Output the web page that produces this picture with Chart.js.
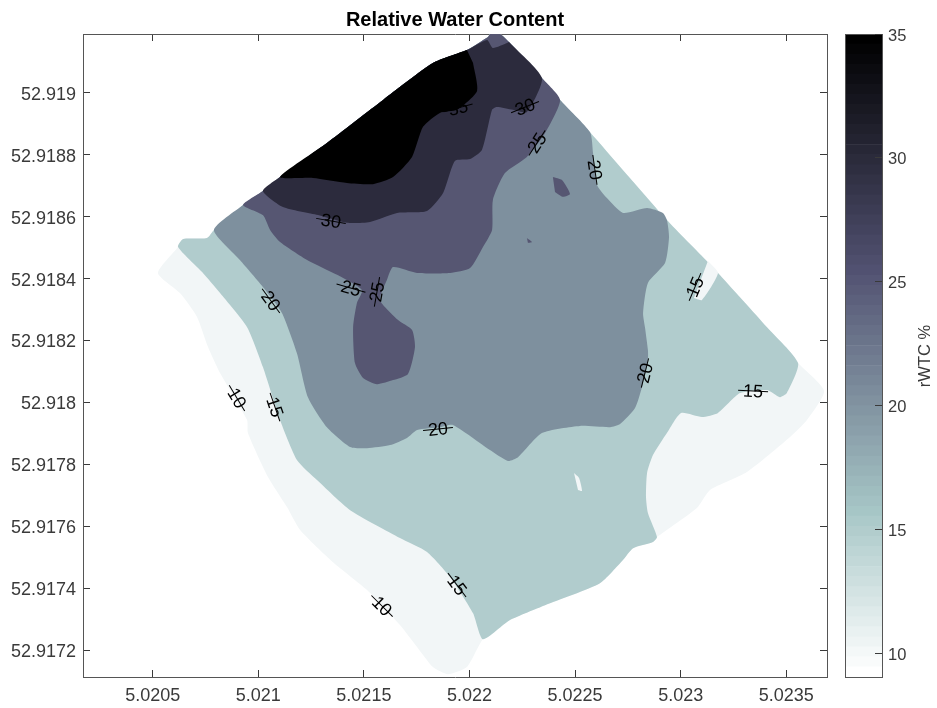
<!DOCTYPE html>
<html>
<head>
<meta charset="utf-8">
<script src="https://cdn.jsdelivr.net/npm/chart.js@4"></script>
<style>
html,body{margin:0;padding:0;background:#fff;width:937px;height:708px;overflow:hidden}
#map{position:absolute;left:0;top:0}
#bar{position:absolute;left:840px;top:0}
</style>
</head>
<body>
<canvas id="map" width="937" height="708"></canvas>
<canvas id="bar" width="97" height="708"></canvas>
<script>
const xTicks=[5.0205,5.021,5.0215,5.022,5.0225,5.023,5.0235];
const xTickLabels=['5.0205','5.021','5.0215','5.022','5.0225','5.023','5.0235'];
const yTicks=[52.9172,52.9174,52.9176,52.9178,52.918,52.9182,52.9184,52.9186,52.9188,52.919];
const yTickLabels=['52.9172','52.9174','52.9176','52.9178','52.918','52.9182','52.9184','52.9186','52.9188','52.919'];
const barTicks=[10,15,20,25,30,35];

// survey outline: north-east edge, apex to east corner
const neLon=[5.022097,5.022145,5.022187,5.022343,5.022429,5.022571,5.022935,5.023129,5.023177,5.023409,5.023556,5.023679];
const neLat=[52.919190,52.919190,52.919164,52.919048,52.918977,52.918873,52.918589,52.918453,52.918418,52.918243,52.918127,52.918037];
// survey outline: north-west edge, apex to west corner
const nwLon=[5.022088,5.021988,5.021827,5.021591,5.021325,5.021103,5.021022,5.020928,5.020790,5.020757,5.020644,5.020620,5.020525];
const nwLat=[52.919180,52.919138,52.919096,52.918977,52.918838,52.918728,52.918683,52.918638,52.918557,52.918531,52.918528,52.918502,52.918418];
// survey outline: southern edges
const southALon=[5.023598,5.023518,5.023314,5.023139,5.023077,5.022888];
const southALat=[52.917943,52.917888,52.917775,52.917717,52.917659,52.917565];
const southBLon=[5.022869,5.022775,5.022727,5.022618,5.022358,5.022192,5.022064];
const southBLat=[52.917549,52.917529,52.917491,52.917416,52.917345,52.917297,52.917235];
const southCLon=[5.021988,5.021898,5.021827,5.021752,5.021671,5.021515,5.021354,5.021198,5.021136,5.021046,5.020951,5.020947,5.020819,5.020762,5.020710,5.020629];
const southCLat=[52.917145,52.917122,52.917145,52.917210,52.917281,52.917394,52.917484,52.917588,52.917662,52.917759,52.917901,52.917943,52.918095,52.918179,52.918276,52.918353];

// contour 15
const c15eLon=[5.023503,5.023470,5.023409,5.023281,5.023177,5.023101,5.023002,5.022935,5.022869,5.022841,5.022836,5.022845,5.022888];
const c15eLat=[52.918030,52.918017,52.918040,52.918030,52.917966,52.917953,52.917966,52.917901,52.917830,52.917772,52.917694,52.917643,52.917565];
const c15wLon=[5.022017,5.021908,5.021799,5.021671,5.021435,5.021278,5.021183,5.021103,5.021022,5.020947,5.020819,5.020734];
const c15wLat=[52.917319,52.917436,52.917517,52.917562,52.917652,52.917749,52.917814,52.917943,52.918114,52.918243,52.918353,52.918421];
const stripLon=[5.023129,5.023177,5.023101,5.023063];
const stripLat=[52.918457,52.918418,52.918331,52.918337];
const sliverLon=[5.022495,5.022519,5.022533,5.022514];
const sliverLat=[52.917772,52.917756,52.917714,52.917717];

// contour 20
const c20Lon=[5.022585,5.022604,5.022651,5.022727,5.022841,5.022916,5.022935,5.022945,5.022926,5.022845,5.022822,5.022831,5.022845,5.022845,5.022817,5.022784,5.022713,5.022666,5.022523,5.022343,5.022230,5.022182,5.022097,5.021922,5.021860,5.021752,5.021704,5.021624,5.021515,5.021435,5.021325,5.021235,5.021183,5.021112,5.021027,5.020913];
const c20Lat=[52.918806,52.918702,52.918660,52.918612,52.918628,52.918612,52.918589,52.918534,52.918450,52.918386,52.918289,52.918243,52.918169,52.918137,52.918050,52.917982,52.917930,52.917920,52.917924,52.917901,52.917823,52.917811,52.917846,52.917927,52.917920,52.917911,52.917885,52.917862,52.917852,52.917856,52.917920,52.918017,52.918159,52.918289,52.918369,52.918460];

// contour 25
const c25Lon=[5.022358,5.022272,5.022168,5.022111,5.022107,5.022064,5.022003,5.021908,5.021752,5.021638,5.021609,5.021576,5.021662,5.021728,5.021742,5.021709,5.021638,5.021562,5.021496,5.021458,5.021449,5.021467,5.021491,5.021373,5.021231,5.021103,5.021056,5.021022];
const c25Lat=[52.918870,52.918793,52.918741,52.918654,52.918557,52.918502,52.918434,52.918418,52.918418,52.918437,52.918395,52.918331,52.918266,52.918234,52.918179,52.918092,52.918072,52.918059,52.918079,52.918127,52.918243,52.918321,52.918363,52.918412,52.918460,52.918518,52.918557,52.918605];
const isleALon=[5.022395,5.022438,5.022476,5.022443,5.022405];
const isleALat=[52.918728,52.918718,52.918673,52.918664,52.918680];
const isleBLon=[5.022272,5.022296,5.022277];
const isleBLat=[52.918531,52.918518,52.918515];

// contour 30
const c30Lon=[5.022272,5.022206,5.022130,5.022107,5.022059,5.022003,5.021931,5.021875,5.021799,5.021657,5.021529,5.021420,5.021283,5.021117];
const c30Lat=[52.918938,52.918945,52.918954,52.918945,52.918815,52.918786,52.918780,52.918676,52.918618,52.918612,52.918583,52.918580,52.918605,52.918631];
const patchLon=[5.022083,5.022111,5.022178];
const patchLat=[52.919171,52.919145,52.919161];

// contour 35
const c35Lon=[5.022017,5.022036,5.021941,5.021860,5.021780,5.021728,5.021638,5.021543,5.021420,5.021259];
const c35Lat=[52.919096,52.919006,52.918945,52.918935,52.918890,52.918793,52.918728,52.918705,52.918709,52.918725];

// contour labels
const labelText=['35','30','25','20','15','15','20','20','25','25','20','10','15','30','10','15'];
const labelLon=[5.021946,5.022263,5.022320,5.022594,5.023068,5.023343,5.022831,5.021851,5.021439,5.021562,5.021060,5.020899,5.021079,5.021344,5.021586,5.021941];
const labelLat=[52.918951,52.918954,52.918838,52.918751,52.918373,52.918037,52.918095,52.917914,52.918369,52.918357,52.918328,52.918014,52.917985,52.918586,52.917342,52.917410];
const labelAngle=[-15,-22,-57,82,-67,3,-76,-6,16,-80,54,59,71,10,45,53];

// colour bar level edges
const barEdges=[9.05,9.46,9.86,10.27,10.67,11.08,11.48,11.89,12.29,12.70,13.11,13.51,13.92,14.32,14.73,15.13,15.54,15.94,16.35,16.75,17.16,17.57,17.97,18.38,18.78,19.19,19.59,20.00,20.40,20.81,21.22,21.62,22.03,22.43,22.84,23.24,23.65,24.05,24.46,24.86,25.27,25.68,26.08,26.49,26.89,27.30,27.70,28.11,28.51,28.92,29.32,29.73,30.14,30.54,30.95,31.35,31.76,32.16,32.57,32.97,33.38,33.78,34.19,34.59,35];

const pts=(lon,lat,from=0,to=lon.length-1)=>{
  const out=[];
  for(let i=from;i<=to;i++)out.push({x:lon[i],y:lat[i]});
  return out;
};
const back=(lon,lat,from,to)=>pts(lon,lat,from,to).reverse();

const C10='#f2f6f7',C15='#b1cccd',C20='#7e909e',C25='#565672',C30='#2c2b3d',C35='#000000';
const layers=[
  {c:C10,p:[...pts(neLon,neLat),...pts(southALon,southALat),...pts(southBLon,southBLat),...pts(southCLon,southCLat),...back(nwLon,nwLat,0,12)]},
  {c:C15,p:[...pts(neLon,neLat,0,10),...pts(c15eLon,c15eLat),...pts(southBLon,southBLat),...pts(c15wLon,c15wLat),...back(nwLon,nwLat,0,11)]},
  {c:C10,p:pts(stripLon,stripLat)},
  {c:C10,p:pts(sliverLon,sliverLat)},
  {c:C20,p:[...pts(neLon,neLat,0,5),...pts(c20Lon,c20Lat),...back(nwLon,nwLat,0,8)]},
  {c:C25,p:[...pts(neLon,neLat,0,4),...pts(c25Lon,c25Lat),...back(nwLon,nwLat,0,7)]},
  {c:C25,p:pts(isleALon,isleALat)},
  {c:C25,p:pts(isleBLon,isleBLat)},
  {c:C30,p:[...pts(neLon,neLat,2,3),...pts(c30Lon,c30Lat),...back(nwLon,nwLat,1,6),...pts(patchLon,patchLat)]},
  {c:C35,p:[...pts(c35Lon,c35Lat),...back(nwLon,nwLat,1,5)]}
];

const FONT='"Liberation Sans", Arial, sans-serif';
const TICK='#3a3a3a', EDGE='#555555';

const fixed=(prop,v)=>s=>{s[prop]=v;};
const setTicks=list=>s=>{s.ticks=list.map(v=>({value:v}));};
const XMIN=5.020170,XMAX=5.023693,YMIN=52.917113,YMAX=52.919190;

const hAxis=(pos,h,extra)=>Object.assign({
  type:'linear',position:pos,min:XMIN,max:XMAX,
  afterBuildTicks:setTicks(xTicks),afterFit:fixed('height',h),
  border:{display:true,color:EDGE,width:1},
  grid:{drawOnChartArea:false,drawTicks:true,tickLength:-7,color:TICK,tickColor:TICK}
},extra);
const vAxis=(pos,w,extra)=>Object.assign({
  type:'linear',position:pos,min:YMIN,max:YMAX,
  afterBuildTicks:setTicks(yTicks),afterFit:fixed('width',w),
  border:{display:true,color:EDGE,width:1},
  grid:{drawOnChartArea:false,drawTicks:true,tickLength:-7,color:TICK,tickColor:TICK}
},extra);

const contourLabels={
  id:'contourLabels',
  afterDatasetsDraw(chart){
    const {ctx,scales:{x,y}}=chart;
    labelText.forEach((t,i)=>{
      ctx.save();
      ctx.translate(x.getPixelForValue(labelLon[i]),y.getPixelForValue(labelLat[i]));
      ctx.rotate(labelAngle[i]*Math.PI/180);
      ctx.strokeStyle='#000';ctx.lineWidth=1;
      ctx.beginPath();ctx.moveTo(-15,0);ctx.lineTo(15,0);ctx.stroke();
      ctx.fillStyle='#000';ctx.font='18px '+FONT;
      ctx.textAlign='center';ctx.textBaseline='middle';
      ctx.fillText(t,0,1);
      ctx.restore();
    });
  }
};

new Chart(document.getElementById('map'),{
  type:'scatter',
  data:{datasets:layers.map((l,i)=>({
    data:l.p,showLine:true,fill:'shape',backgroundColor:l.c,borderColor:l.c,tension:0.2,
    borderWidth:0,pointRadius:0,pointHoverRadius:0,order:layers.length-i
  }))},
  options:{
    responsive:false,animation:false,events:[],
    layout:{padding:0},
    plugins:{legend:{display:false},tooltip:{enabled:false}},
    scales:{
      x:hAxis('bottom',31,{ticks:{autoSkip:false,maxRotation:0,minRotation:0,padding:15,color:TICK,font:{family:FONT,size:18},callback:(v,i)=>xTickLabels[i]}}),
      x2:hAxis('top',34,{ticks:{display:false},
        title:{display:true,text:'Relative Water Content',color:'#000',font:{family:FONT,size:20,weight:'bold'},padding:{top:8,bottom:0}}}),
      y:vAxis('left',83,{ticks:{autoSkip:false,padding:14,labelOffset:2,color:TICK,font:{family:FONT,size:18},callback:(v,i)=>yTickLabels[i]}}),
      y2:vAxis('right',110,{ticks:{display:false}})
    }
  },
  plugins:[contourLabels]
});

function bone(t){
  const r=t<0.746?0.875*t:0.875*t+(t-0.746)/0.254/8;
  const g=t<0.365?0.875*t:(t<0.746?0.875*t+(t-0.365)/0.381/8:0.875*t+0.125);
  const b=t<0.365?0.875*t+t/0.365/8:0.875*t+0.125;
  return 'rgb('+[r,g,b].map(v=>Math.round(v*255)).join(',')+')';
}
const barLabel={
  id:'barLabel',
  afterDraw(chart){
    const {ctx}=chart;
    ctx.save();
    ctx.translate(85,356);
    ctx.rotate(-Math.PI/2);
    ctx.fillStyle=TICK;ctx.font='16.5px '+FONT;ctx.textAlign='center';ctx.textBaseline='middle';
    ctx.fillText('rWTC %',0,0);
    ctx.restore();
  }
};
const barDatasets=[];
for(let i=0;i<barEdges.length-1;i++){
  barDatasets.push({data:[[barEdges[i],barEdges[i+1]]],backgroundColor:bone(1-i/(barEdges.length-2)),borderWidth:0,barPercentage:1,categoryPercentage:1});
}
const barGrid={drawOnChartArea:false,drawTicks:false};
new Chart(document.getElementById('bar'),{
  type:'bar',
  data:{labels:['rWTC'],datasets:barDatasets},
  options:{
    responsive:false,animation:false,events:[],
    layout:{padding:0},
    plugins:{legend:{display:false},tooltip:{enabled:false}},
    scales:{
      x:{stacked:true,position:'bottom',afterFit:fixed('height',31),ticks:{display:false},grid:barGrid,border:{display:true,color:EDGE,width:1,z:2}},
      xt:{type:'category',labels:['rWTC'],position:'top',afterFit:fixed('height',34),ticks:{display:false},grid:barGrid,border:{display:true,color:EDGE,width:1,z:2}},
      yl:{type:'linear',position:'left',min:9.05,max:35,afterFit:fixed('width',5),ticks:{display:false},grid:barGrid,border:{display:true,color:EDGE,width:1,z:2}},
      y:{type:'linear',position:'right',min:9.05,max:35,afterFit:fixed('width',55),afterBuildTicks:setTicks(barTicks),
        ticks:{padding:13,labelOffset:2,color:TICK,font:{family:FONT,size:16.5},autoSkip:false},
        grid:{drawOnChartArea:false,drawTicks:true,tickLength:-7,tickColor:TICK,z:2},border:{display:true,color:EDGE,width:1,z:2}}
    }
  },
  plugins:[barLabel]
});
</script>
</body>
</html>
